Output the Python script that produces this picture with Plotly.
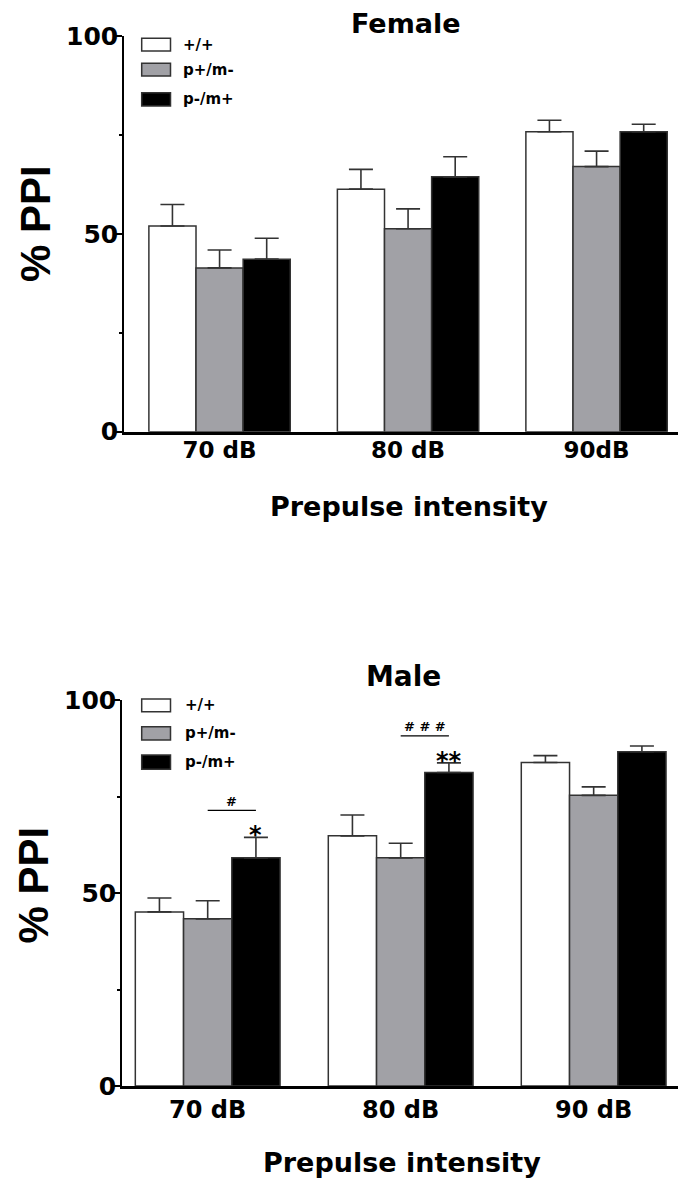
import plotly.graph_objects as go

W, H = 684, 1186

# ---- data -----------------------------------------------------------------
genotypes = ["+/+", "p+/m-", "p-/m+"]
fills = ["#ffffff", "#a1a1a6", "#000000"]

female_labels = ["70 dB", "80 dB", "90dB"]
male_labels = ["70 dB", "80 dB", "90 dB"]

female_wt = [52.0, 61.3, 75.8]
female_wt_sem = [5.4, 5.0, 2.9]
female_pat = [41.4, 51.3, 67.0]
female_pat_sem = [4.5, 5.0, 3.9]
female_mat = [43.6, 64.4, 75.8]
female_mat_sem = [5.3, 5.1, 1.9]

male_wt = [45.1, 64.8, 83.8]
male_wt_sem = [3.6, 5.4, 1.8]
male_pat = [43.3, 59.1, 75.3]
male_pat_sem = [4.7, 3.8, 2.2]
male_mat = [59.1, 81.2, 86.6]
male_mat_sem = [5.3, 2.5, 1.5]

# p-/m+ vs +/+ (asterisks) and p-/m+ vs p+/m- (hashes)
male_star = ["*", "**", ""]
male_hash = ["#", "# # #", ""]

# ---- styling ----------------------------------------------------------------
EDGE = "#333333"
BOLD = "DejaVu Sans"
ARIAL = "Liberation Sans"


def px_x(x):
    return x / W


def px_y(y):
    return 1 - y / H


fig = go.Figure()

panels = [
    ("x", "y", [(female_wt, female_wt_sem), (female_pat, female_pat_sem), (female_mat, female_mat_sem)]),
    ("x2", "y2", [(male_wt, male_wt_sem), (male_pat, male_pat_sem), (male_mat, male_mat_sem)]),
]

for xa, ya, series in panels:
    for name, fill, (vals, sems) in zip(genotypes, fills, series):
        fig.add_trace(go.Bar(
            x=list(range(len(vals))), y=vals, name=name,
            xaxis=xa, yaxis=ya, showlegend=False,
            marker=dict(color=fill, line=dict(color=EDGE, width=1.5)),
            error_y=dict(type="data", array=sems, arrayminus=[0] * len(sems),
                         symmetric=False, color=EDGE, thickness=1.6, width=12),
        ))

common_x = dict(
    type="linear", showgrid=False, zeroline=False, automargin=False,
    showline=True, linecolor="black", linewidth=3,
    ticks="", tickvals=[0, 1, 2],
    tickfont=dict(family=BOLD, size=23, color="black", weight="bold"),
)
common_y = dict(
    range=[0, 100], showgrid=False, zeroline=False, automargin=False,
    showline=True, linecolor="black", linewidth=1.5,
    ticks="outside", ticklen=7, tickwidth=1.5, tickcolor="black",
    tickvals=[0, 50, 100], ticktext=["0", "50", "100"],
    minor=dict(tickvals=[25, 75], ticks="outside", ticklen=3, tickwidth=1.5, tickcolor="black"),
    tickfont=dict(family=BOLD, size=25, color="black", weight="bold"),
    ticklabelstandoff=-8,
)

fig.update_layout(
    width=W, height=H,
    margin=dict(l=0, r=0, t=0, b=0, autoexpand=False),
    paper_bgcolor="white", plot_bgcolor="white",
    barmode="group", bargap=0.25, bargroupgap=0,
    showlegend=False,
    xaxis=dict(common_x, domain=[px_x(124), px_x(678)], range=[-0.507, 2.432],
               ticktext=female_labels, anchor="y", ticklabelstandoff=-4),
    yaxis=dict(common_y, domain=[px_y(431.7), px_y(36)], anchor="x"),
    xaxis2=dict(common_x, domain=[px_x(122), px_x(678)], range=[-0.444, 2.437],
                ticktext=male_labels, anchor="y2", ticklabelstandoff=0,
                tickfont=dict(family=BOLD, size=24, color="black", weight="bold")),
    yaxis2=dict(common_y, domain=[px_y(1086), px_y(700)], anchor="x2"),
)

annotations = []
shapes = []


def text(x, y, s, size, family=BOLD, xanchor="center", yanchor="middle", **kw):
    annotations.append(dict(
        x=x, y=y, text=s, showarrow=False, xanchor=xanchor, yanchor=yanchor,
        font=dict(family=family, size=size, color="black", weight="bold"), **kw))


# panel titles and axis titles
text(px_x(406), px_y(23.5), "Female", 27, xref="paper", yref="paper")
text(px_x(403), px_y(676.5), "Male", 28, xref="paper", yref="paper")
text(px_x(408.5), px_y(507), "Prepulse intensity", 27, xref="paper", yref="paper")
text(px_x(402), px_y(1162), "Prepulse intensity", 27, xref="paper", yref="paper")
text(px_x(35), px_y(224), "% PPI", 42, family=ARIAL, textangle=-90, xref="paper", yref="paper")
text(px_x(33), px_y(885.5), "% PPI", 42, family=ARIAL, textangle=-90, xref="paper", yref="paper")

# legends (swatch + label) for each panel
legend_rows = {
    "top": [(38.3, 51.0), (63.3, 76.0), (92.7, 106.0)],
    "bottom": [(699.0, 711.7), (726.7, 740.0), (755.0, 769.3)],
}
legend_text_x = {"top": 181, "bottom": 183}
for key, rows in legend_rows.items():
    for (y0, y1), name, fill in zip(rows, genotypes, fills):
        shapes.append(dict(type="rect", xref="paper", yref="paper",
                           x0=px_x(141.7), x1=px_x(170.5), y0=px_y(y1), y1=px_y(y0),
                           fillcolor=fill, line=dict(color=EDGE, width=1.5)))
        text(px_x(legend_text_x[key]), px_y((y0 + y1) / 2), name, 15,
             xref="paper", yref="paper", xanchor="left")

# significance marks on the male panel
for i, (star, hsh) in enumerate(zip(male_star, male_hash)):
    top = male_mat[i] + male_mat_sem[i]
    if star:
        text(i + 0.25, top + 0.6, star, 24, xref="x2", yref="y2")
    if hsh:
        shapes.append(dict(type="line", xref="x2", yref="y2",
                           x0=i, x1=i + 0.25, y0=top + 7, y1=top + 7,
                           line=dict(color="black", width=1.3)))
        text(i + 0.125, top + 9.4, hsh, 13, xref="x2", yref="y2")

fig.update_layout(annotations=annotations, shapes=shapes)

fig.write_html("out.html")
